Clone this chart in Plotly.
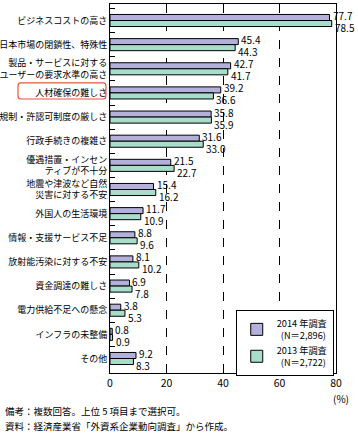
import plotly.graph_objects as go

categories = [
    "ビジネスコストの高さ",
    "日本市場の閉鎖性、特殊性",
    "製品・サービスに対する<br>ユーザーの要求水準の高さ",
    "人材確保の難しさ",
    "規制・許認可制度の厳しさ",
    "行政手続きの複雑さ",
    "優遇措置・インセン<br>ティブが不十分",
    "地震や津波など自然<br>災害に対する不安",
    "外国人の生活環境",
    "情報・支援サービス不足",
    "放射能汚染に対する不安",
    "資金調達の難しさ",
    "電力供給不足への懸念",
    "インフラの未整備",
    "その他",
]
values_2014 = [77.7, 45.4, 42.7, 39.2, 35.8, 31.6, 21.5, 15.4, 11.7, 8.8, 8.1, 6.9, 3.8, 0.8, 9.2]
values_2013 = [78.5, 44.3, 41.7, 36.6, 35.9, 33.0, 22.7, 16.2, 10.9, 9.6, 10.2, 7.8, 5.3, 0.9, 8.3]
x_ticks = [0, 20, 40, 60, 80]
series_names = ["2014 年調査<br>\u00a0\u00a0(N＝2,896)", "2013 年調査<br>\u00a0\u00a0(N＝2,722)"]

FONT = "Noto Sans CJK JP"
C14 = "#b3b1dc"
C13 = "#a8dccb"

fig = go.Figure()
fig.add_trace(go.Bar(y=categories, x=values_2014, orientation="h", name=series_names[0],
                     marker=dict(color=C14, line=dict(color="black", width=1))))
fig.add_trace(go.Bar(y=categories, x=values_2013, orientation="h", name=series_names[1],
                     marker=dict(color=C13, line=dict(color="black", width=1))))

annotations = []
for i, (a, b) in enumerate(zip(values_2014, values_2013)):
    annotations.append(dict(x=a, y=i, xref="x", yref="y", text=f"{a:.1f}", showarrow=False,
                            xanchor="left", yanchor="middle", xshift=1, yshift=5,
                            font=dict(family=FONT, size=10, color="black")))
    annotations.append(dict(x=b, y=i, xref="x", yref="y", text=f"{b:.1f}", showarrow=False,
                            xanchor="left", yanchor="middle", xshift=1, yshift=-7,
                            font=dict(family=FONT, size=10, color="black")))

annotations.append(dict(x=1.02, y=-0.068, xref="paper", yref="paper", text="(%)", showarrow=False,
                        xanchor="center", yanchor="middle", font=dict(family=FONT, size=10, color="black")))
annotations.append(dict(x=-0.473, y=-0.103, xref="paper", yref="paper",
                        text="備考：複数回答。上位 5 項目まで選択可。", showarrow=False,
                        xanchor="left", yanchor="middle", font=dict(family=FONT, size=9.5, color="black")))
annotations.append(dict(x=-0.473, y=-0.1436, xref="paper", yref="paper",
                        text="資料：経済産業省「外資系企業動向調査」から作成。", showarrow=False,
                        xanchor="left", yanchor="middle", font=dict(family=FONT, size=9.5, color="black")))

# rounded red box around highlighted label (paper coords)
x0, x1 = -0.407, -0.018
y0, y1 = 0.7425, 0.786
rx, ry = 0.012, 0.008
path = (f"M {x0+rx},{y0} L {x1-rx},{y0} Q {x1},{y0} {x1},{y0+ry} L {x1},{y1-ry} "
        f"Q {x1},{y1} {x1-rx},{y1} L {x0+rx},{y1} Q {x0},{y1} {x0},{y1-ry} "
        f"L {x0},{y0+ry} Q {x0},{y0} {x0+rx},{y0} Z")

fig.update_layout(
    width=358, height=437,
    margin=dict(l=110, r=22, t=4, b=64),
    template="none",
    paper_bgcolor="white", plot_bgcolor="white",
    barmode="group", bargap=0.5, bargroupgap=0.0,
    font=dict(family=FONT, size=10, color="black"),
    showlegend=True,
    legend=dict(x=0.99, y=0.171, xanchor="right", yanchor="top",
                bordercolor="black", borderwidth=1, bgcolor="white",
                font=dict(family=FONT, size=9.2, color="black"),
                tracegroupgap=0, itemwidth=30),
    annotations=annotations,
    shapes=[dict(type="path", path=path, xref="paper", yref="paper",
                 line=dict(color="#e8553a", width=1.2))],
)
fig.update_xaxes(range=[0, 80], tickvals=x_ticks, ticks="", showgrid=True,
                 gridcolor="black", griddash="dash", gridwidth=1,
                 showline=True, linecolor="black", linewidth=1, mirror=True,
                 zeroline=False, automargin=False,
                 tickfont=dict(family=FONT, size=10.5, color="black"))
fig.update_yaxes(autorange="reversed", type="category", ticks="inside", tickson="boundaries",
                 ticklen=5, tickcolor="black", showline=True, linecolor="black", linewidth=1,
                 mirror=True, showgrid=False, automargin=False,
                 tickfont=dict(family=FONT, size=9, color="black"))

fig.write_html("out.html", config={"displayModeBar": False},
               post_script="document.body.style.margin='0';document.body.style.padding='0';")
